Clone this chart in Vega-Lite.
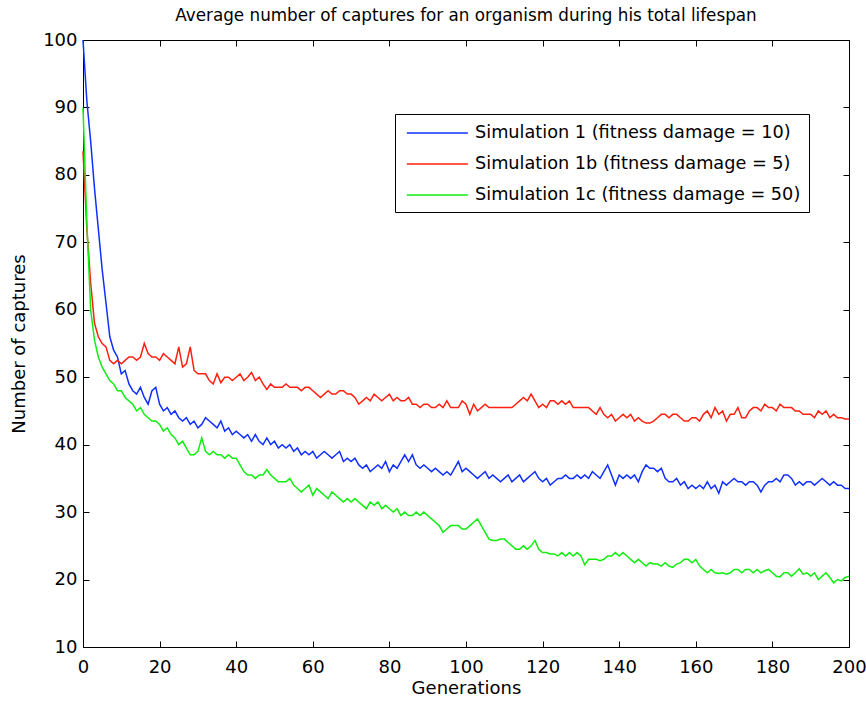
{
  "$schema": "https://vega.github.io/schema/vega-lite/v6.json",
  "width": 766,
  "height": 607,
  "autosize": {"type": "none"},
  "padding": {"left": 83, "top": 40, "right": 17, "bottom": 57},
  "background": "white",
  "title": {"text": "Average number of captures for an organism during his total lifespan", "font": "DejaVu Sans", "fontSize": 16.8, "fontWeight": "normal", "color": "black", "anchor": "middle", "baseline": "alphabetic", "offset": 10, "dy": 17},
  "data": {"values": [
{"g":0,"a":100,"b":83.5,"c":90},{"g":1,"a":91,"b":72,"c":73},{"g":2,"a":85,"b":64,"c":60},{"g":3,"a":78,"b":58,"c":55.5},{"g":4,"a":72,"b":56,"c":53},{"g":5,"a":66,"b":55,"c":51.5},{"g":6,"a":61,"b":54.5,"c":50.5},{"g":7,"a":56,"b":52.5,"c":49.5},{"g":8,"a":54,"b":52,"c":49},{"g":9,"a":53,"b":52.5,"c":48},
{"g":10,"a":50.5,"b":52,"c":48},{"g":11,"a":51,"b":52.5,"c":47},{"g":12,"a":49,"b":53,"c":46.5},{"g":13,"a":48,"b":53,"c":46},{"g":14,"a":47.5,"b":52.5,"c":45},{"g":15,"a":48.5,"b":53,"c":45.5},{"g":16,"a":47,"b":55,"c":44.5},{"g":17,"a":46,"b":53.5,"c":44},{"g":18,"a":48,"b":53,"c":43.5},{"g":19,"a":48.5,"b":53,"c":43.5},
{"g":20,"a":46,"b":52.5,"c":43},{"g":21,"a":45,"b":53.5,"c":42},{"g":22,"a":45.5,"b":53,"c":42.5},{"g":23,"a":44.5,"b":52.5,"c":41.5},{"g":24,"a":45,"b":52,"c":41},{"g":25,"a":44,"b":54.5,"c":40},{"g":26,"a":43.5,"b":51.5,"c":40.5},{"g":27,"a":44,"b":52,"c":39.5},{"g":28,"a":43,"b":54.5,"c":38.5},{"g":29,"a":43.5,"b":51,"c":38.5},
{"g":30,"a":42.5,"b":50.5,"c":39},{"g":31,"a":43,"b":50.5,"c":41},{"g":32,"a":44,"b":50.5,"c":39},{"g":33,"a":43.5,"b":49.5,"c":38.5},{"g":34,"a":43,"b":49,"c":39},{"g":35,"a":42.5,"b":50.5,"c":38.5},{"g":36,"a":43.5,"b":49.2,"c":38.5},{"g":37,"a":42,"b":50,"c":38},{"g":38,"a":42.5,"b":50,"c":38.5},{"g":39,"a":41.5,"b":49.5,"c":38},
{"g":40,"a":42,"b":50,"c":38},{"g":41,"a":41.5,"b":50.5,"c":37},{"g":42,"a":41,"b":49.5,"c":36},{"g":43,"a":41.5,"b":50,"c":35.5},{"g":44,"a":40.5,"b":50.7,"c":35.5},{"g":45,"a":41.5,"b":49.5,"c":35},{"g":46,"a":40.5,"b":50,"c":35.5},{"g":47,"a":40,"b":49,"c":35.5},{"g":48,"a":41,"b":48.2,"c":36.3},{"g":49,"a":40,"b":49,"c":35.5},
{"g":50,"a":40.5,"b":48.5,"c":35},{"g":51,"a":39.5,"b":48.5,"c":34.5},{"g":52,"a":40,"b":48.5,"c":34.5},{"g":53,"a":39.5,"b":49,"c":34.5},{"g":54,"a":40,"b":48.5,"c":35},{"g":55,"a":39,"b":48.5,"c":34},{"g":56,"a":39.5,"b":48.5,"c":33.5},{"g":57,"a":38.5,"b":48,"c":33},{"g":58,"a":39,"b":48.5,"c":33.5},{"g":59,"a":38.5,"b":48.5,"c":34},
{"g":60,"a":39,"b":48,"c":32.5},{"g":61,"a":38,"b":47.5,"c":33.5},{"g":62,"a":38.5,"b":47,"c":33},{"g":63,"a":39,"b":47.5,"c":32.5},{"g":64,"a":38.5,"b":48,"c":32},{"g":65,"a":38,"b":47.5,"c":33},{"g":66,"a":38.5,"b":47.5,"c":32.5},{"g":67,"a":39,"b":48,"c":32},{"g":68,"a":37.5,"b":48,"c":31.5},{"g":69,"a":38,"b":47.5,"c":32},
{"g":70,"a":37.5,"b":47.5,"c":31.5},{"g":71,"a":38,"b":47,"c":32},{"g":72,"a":37,"b":46,"c":31.5},{"g":73,"a":36.5,"b":46.5,"c":31},{"g":74,"a":37,"b":47,"c":30.5},{"g":75,"a":36,"b":46.5,"c":31.5},{"g":76,"a":36.5,"b":47.5,"c":31},{"g":77,"a":37,"b":47,"c":31.5},{"g":78,"a":36.5,"b":46.5,"c":30.5},{"g":79,"a":37.5,"b":47,"c":31},
{"g":80,"a":36,"b":47.5,"c":30.5},{"g":81,"a":37,"b":46.5,"c":30},{"g":82,"a":36.5,"b":47,"c":30.5},{"g":83,"a":37.5,"b":46.5,"c":29.5},{"g":84,"a":38.5,"b":46.5,"c":30},{"g":85,"a":37.5,"b":47,"c":29.5},{"g":86,"a":38.5,"b":46,"c":29.5},{"g":87,"a":37,"b":46,"c":30},{"g":88,"a":36.5,"b":45.5,"c":29.5},{"g":89,"a":37,"b":46,"c":30},
{"g":90,"a":36.5,"b":46,"c":29.5},{"g":91,"a":36,"b":45.5,"c":29},{"g":92,"a":36.5,"b":45.5,"c":28.5},{"g":93,"a":36,"b":46,"c":28},{"g":94,"a":35.5,"b":45.5,"c":27},{"g":95,"a":36,"b":46.5,"c":27.5},{"g":96,"a":35.5,"b":45.5,"c":28},{"g":97,"a":36.5,"b":45.5,"c":28},{"g":98,"a":37.5,"b":45.5,"c":28},{"g":99,"a":36,"b":46.5,"c":27.5},
{"g":100,"a":36.5,"b":46,"c":27.5},{"g":101,"a":36,"b":44.5,"c":28},{"g":102,"a":35.5,"b":46,"c":28.5},{"g":103,"a":35,"b":45,"c":29},{"g":104,"a":35.5,"b":45.5,"c":28},{"g":105,"a":36,"b":46,"c":27},{"g":106,"a":35,"b":45.5,"c":26},{"g":107,"a":35.5,"b":45.5,"c":25.8},{"g":108,"a":35,"b":45.5,"c":25.8},{"g":109,"a":34.5,"b":45.5,"c":26},
{"g":110,"a":35,"b":45.5,"c":26},{"g":111,"a":35.5,"b":45.5,"c":25.5},{"g":112,"a":34.5,"b":45.5,"c":25},{"g":113,"a":35,"b":46,"c":24.5},{"g":114,"a":35.5,"b":46.5,"c":24.5},{"g":115,"a":34.5,"b":47,"c":25},{"g":116,"a":35,"b":46.5,"c":24.5},{"g":117,"a":35.5,"b":47.5,"c":25},{"g":118,"a":36,"b":46.5,"c":25.8},{"g":119,"a":35,"b":45.5,"c":24.5},
{"g":120,"a":34.5,"b":46,"c":24},{"g":121,"a":35,"b":45.5,"c":24},{"g":122,"a":34,"b":46.5,"c":23.8},{"g":123,"a":34.5,"b":46.5,"c":23.8},{"g":124,"a":35,"b":46,"c":23.5},{"g":125,"a":35,"b":46.5,"c":24},{"g":126,"a":35.5,"b":46,"c":23.5},{"g":127,"a":35,"b":46.5,"c":24},{"g":128,"a":35,"b":45.5,"c":23.5},{"g":129,"a":35.5,"b":45.5,"c":24},
{"g":130,"a":35,"b":45.5,"c":23.5},{"g":131,"a":35.5,"b":45.5,"c":22.2},{"g":132,"a":35,"b":45.5,"c":23},{"g":133,"a":36,"b":45,"c":23},{"g":134,"a":35.5,"b":44.5,"c":23},{"g":135,"a":35,"b":45.5,"c":22.8},{"g":136,"a":36,"b":44.5,"c":23},{"g":137,"a":37,"b":44,"c":23.5},{"g":138,"a":35.5,"b":44.5,"c":23.5},{"g":139,"a":34,"b":43.5,"c":24},
{"g":140,"a":35.5,"b":44,"c":23.5},{"g":141,"a":35,"b":44.5,"c":24},{"g":142,"a":35.5,"b":44,"c":23.5},{"g":143,"a":35,"b":44.5,"c":23},{"g":144,"a":35.5,"b":43.5,"c":22.5},{"g":145,"a":34.5,"b":44,"c":23},{"g":146,"a":36,"b":43.5,"c":22.5},{"g":147,"a":37,"b":43.2,"c":22},{"g":148,"a":36.5,"b":43.2,"c":22.5},{"g":149,"a":36.5,"b":43.5,"c":22.3},
{"g":150,"a":36,"b":44,"c":22.3},{"g":151,"a":36.5,"b":44.5,"c":22},{"g":152,"a":35,"b":44.5,"c":22.5},{"g":153,"a":34.5,"b":44,"c":22},{"g":154,"a":34.5,"b":44.5,"c":21.8},{"g":155,"a":35,"b":44.5,"c":22.3},{"g":156,"a":34,"b":44,"c":22.5},{"g":157,"a":34.5,"b":43.5,"c":23},{"g":158,"a":33.5,"b":43.5,"c":23},{"g":159,"a":34,"b":44,"c":22.5},
{"g":160,"a":33.5,"b":44,"c":23},{"g":161,"a":34,"b":43.5,"c":22},{"g":162,"a":33.5,"b":44.5,"c":21.5},{"g":163,"a":34.5,"b":45,"c":21},{"g":164,"a":33.5,"b":44,"c":21.5},{"g":165,"a":34,"b":45.5,"c":21},{"g":166,"a":32.8,"b":44.5,"c":20.9},{"g":167,"a":34.5,"b":45,"c":21},{"g":168,"a":34,"b":43.5,"c":20.8},{"g":169,"a":34.5,"b":44.5,"c":21},
{"g":170,"a":35,"b":44.5,"c":21.5},{"g":171,"a":34.5,"b":45.5,"c":21.5},{"g":172,"a":34.5,"b":44,"c":21},{"g":173,"a":34,"b":44,"c":21.5},{"g":174,"a":34.5,"b":45,"c":21.5},{"g":175,"a":34.5,"b":45.5,"c":21},{"g":176,"a":34,"b":45.5,"c":21.5},{"g":177,"a":33,"b":45,"c":21},{"g":178,"a":34,"b":46,"c":21.3},{"g":179,"a":34.5,"b":45.5,"c":21.5},
{"g":180,"a":34.5,"b":45.5,"c":21},{"g":181,"a":35,"b":45,"c":20.5},{"g":182,"a":34.5,"b":46,"c":20.4},{"g":183,"a":35.5,"b":45.5,"c":21},{"g":184,"a":35.5,"b":45.5,"c":21},{"g":185,"a":35,"b":45.5,"c":20.5},{"g":186,"a":34,"b":45,"c":21},{"g":187,"a":34.5,"b":45,"c":21.6},{"g":188,"a":34,"b":44.5,"c":20.8},{"g":189,"a":34.5,"b":44.5,"c":21},
{"g":190,"a":34.5,"b":44.5,"c":20.5},{"g":191,"a":34,"b":44,"c":21},{"g":192,"a":34.5,"b":45,"c":20},{"g":193,"a":35,"b":44.5,"c":20.5},{"g":194,"a":34.5,"b":45,"c":21},{"g":195,"a":34,"b":44,"c":20.3},{"g":196,"a":34.5,"b":44.5,"c":19.5},{"g":197,"a":34,"b":44,"c":20},{"g":198,"a":34,"b":44,"c":19.8},{"g":199,"a":33.5,"b":43.8,"c":20.3},
{"g":200,"a":33.5,"b":43.8,"c":20.5}
  ]},
  "transform": [{"fold": ["a", "b", "c"], "as": ["s", "v"]}],
  "layer": [
    {
      "mark": {"type": "line", "strokeWidth": 1.5},
      "encoding": {
        "x": {"field": "g", "type": "quantitative", "scale": {"domain": [0, 200], "nice": false},
              "axis": {"orient": "bottom", "values": [0,20,40,60,80,100,120,140,160,180,200], "title": "Generations", "labelPadding": 11, "titlePadding": 3, "labelFlush": false, "labelOverlap": false}},
        "y": {"field": "v", "type": "quantitative", "scale": {"domain": [10, 100], "nice": false, "zero": false},
              "axis": {"orient": "left", "values": [10,20,30,40,50,60,70,80,90,100], "title": "Number of captures", "labelPadding": 6, "titlePadding": 14, "labelFlush": false, "labelOverlap": false}},
        "color": {"field": "s", "type": "nominal", "scale": {"domain": ["a", "b", "c"], "range": ["#1030ff", "#ff2010", "#10ee10"]},
                  "legend": {"title": null, "orient": "none", "legendX": 312, "legendY": 74, "direction": "vertical",
                             "labelExpr": "datum.label == 'a' ? 'Simulation 1 (fitness damage = 10)' : datum.label == 'b' ? 'Simulation 1b (fitness damage = 5)' : 'Simulation 1c (fitness damage = 50)'"}}
      }
    },
    {
      "mark": {"type": "line", "opacity": 0},
      "encoding": {
        "x": {"field": "g", "type": "quantitative", "scale": {"domain": [0, 200], "nice": false},
              "axis": {"orient": "top", "values": [0,20,40,60,80,100,120,140,160,180,200], "labels": false, "title": null}},
        "y": {"field": "v", "type": "quantitative", "scale": {"domain": [10, 100], "nice": false, "zero": false},
              "axis": {"orient": "right", "values": [10,20,30,40,50,60,70,80,90,100], "labels": false, "title": null}},
        "detail": {"field": "s", "type": "nominal"}
      }
    }
  ],
  "resolve": {"axis": {"x": "independent", "y": "independent"}},
  "config": {
    "view": {"stroke": "black", "strokeWidth": 1},
    "axis": {"grid": false, "domain": false, "offset": -6, "tickColor": "black", "tickWidth": 1, "tickSize": 6,
             "labelFont": "DejaVu Sans", "labelFontSize": 18, "labelColor": "black",
             "titleFont": "DejaVu Sans", "titleFontSize": 18, "titleFontWeight": "normal", "titleColor": "black"},
    "legend": {"fillColor": "white", "strokeColor": "black", "strokeWidth": 1, "padding": 8, "rowPadding": 11,
               "symbolType": "M-0.7,0H5.3", "symbolSize": 413, "symbolStrokeWidth": 1.5, "symbolFillColor": "transparent",
               "labelFont": "DejaVu Sans", "labelFontSize": 17.7, "labelColor": "black", "labelOffset": 50, "labelLimit": 500}
  }
}
